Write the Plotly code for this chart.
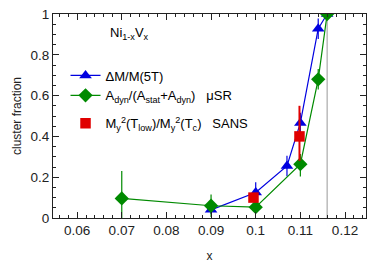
import plotly.graph_objects as go

# Data
x_dm = [0.09, 0.1, 0.107, 0.11, 0.114, 0.116]
y_dm = [0.04, 0.125, 0.255, 0.466, 0.928, 1.0]
e_dm = [0.02, 0.05, 0.05, 0.05, 0.05, 0.0]

x_mu = [0.07, 0.09, 0.1, 0.11, 0.114, 0.116]
y_mu = [0.096, 0.06, 0.053, 0.264, 0.68, 1.0]
e_mu_plus = [0.135, 0.055, 0.02, 0.05, 0.05, 0.0]
e_mu_minus = [0.096, 0.055, 0.02, 0.06, 0.05, 0.0]

x_sans = [0.0995, 0.1098]
y_sans = [0.10, 0.40]
e_sans_plus = [0.02, 0.15]
e_sans_minus = [0.02, 0.12]

x_c = 0.116

x_ticks = [0.06, 0.07, 0.08, 0.09, 0.1, 0.11, 0.12]
x_ticktext = ["0.06", "0.07", "0.08", "0.09", "0.1", "0.11", "0.12"]
y_ticks = [0, 0.2, 0.4, 0.6, 0.8, 1]
y_ticktext = ["0", "0.2", "0.4", "0.6", "0.8", "1"]

BLUE = "#0000e0"
GREEN = "#008a00"
RED = "#e00000"
FONT = "Liberation Sans, Arial, Helvetica, sans-serif"

fig = go.Figure()

fig.add_trace(go.Scatter(
    x=x_dm, y=y_dm, mode="lines+markers",
    name="ΔM/M(5T)", legendgroup="a",
    line=dict(color=BLUE, width=1.2),
    marker=dict(symbol="triangle-up", size=11, color=BLUE),
    error_y=dict(type="data", array=e_dm, color=BLUE, thickness=1.2, width=0),
))
fig.add_trace(go.Scatter(
    x=x_mu, y=y_mu, mode="lines+markers",
    name="A<sub>dyn</sub>/(A<sub>stat</sub>+A<sub>dyn</sub>)   μSR", legendgroup="a",
    line=dict(color=GREEN, width=1.2),
    marker=dict(symbol="diamond", size=11, color=GREEN),
    error_y=dict(type="data", symmetric=False, array=e_mu_plus, arrayminus=e_mu_minus,
                 color=GREEN, thickness=1.2, width=0),
))
fig.add_trace(go.Scatter(
    x=x_sans, y=y_sans, mode="markers",
    name="M<sub>y</sub><sup>2</sup>(T<sub>low</sub>)/M<sub>y</sub><sup>2</sup>(T<sub>c</sub>)   SANS",
    legendgroup="b",
    marker=dict(symbol="square", size=10.5, color=RED),
    error_y=dict(type="data", symmetric=False, array=e_sans_plus, arrayminus=e_sans_minus,
                 color=RED, thickness=2, width=0),
))

fig.add_shape(type="line", xref="x", yref="paper", x0=x_c, x1=x_c, y0=0, y1=1,
              line=dict(color="#aaaaaa", width=1.2), layer="below")

fig.add_annotation(text="Ni<sub>1-x</sub>V<sub>x</sub>", xref="paper", yref="paper",
                   x=0.175, y=0.903, xanchor="left", yanchor="middle", showarrow=False,
                   font=dict(family=FONT, size=13, color="black"))

axis_common = dict(
    showline=True, linecolor="#222222", linewidth=1, mirror="ticks",
    ticks="inside", ticklen=6, tickcolor="#222222", showgrid=False, zeroline=False,
    tickfont=dict(family=FONT, size=13.5, color="#222222"),
)

fig.update_xaxes(
    range=[0.0546, 0.1247], tickvals=x_ticks, ticktext=x_ticktext,
    minor=dict(dtick=0.002, tick0=0.06, ticks="inside", ticklen=3, tickcolor="#222222", showgrid=False),
    title=dict(text="x", font=dict(family=FONT, size=12, color="#222222"), standoff=14),
    **axis_common,
)
fig.update_yaxes(
    range=[0, 1], tickvals=y_ticks, ticktext=y_ticktext,
    minor=dict(dtick=0.05, ticks="inside", ticklen=3, tickcolor="#222222", showgrid=False),
    title=dict(text="cluster fraction", font=dict(family=FONT, size=12, color="#222222"), standoff=6),
    **axis_common,
)

fig.update_layout(
    width=374, height=268,
    margin=dict(l=53, r=7, t=12, b=48),
    paper_bgcolor="white", plot_bgcolor="white",
    font=dict(family=FONT, size=13, color="black"),
    showlegend=True,
    legend=dict(x=0.04, y=0.772, xanchor="left", yanchor="top",
                bgcolor="rgba(0,0,0,0)", font=dict(family=FONT, size=13, color="black"),
                itemwidth=30, tracegroupgap=8, traceorder="grouped"),
)

fig.write_html("out.html", config={"displayModeBar": False},
               post_script="document.body.style.margin='0';document.body.style.overflow='hidden';")
